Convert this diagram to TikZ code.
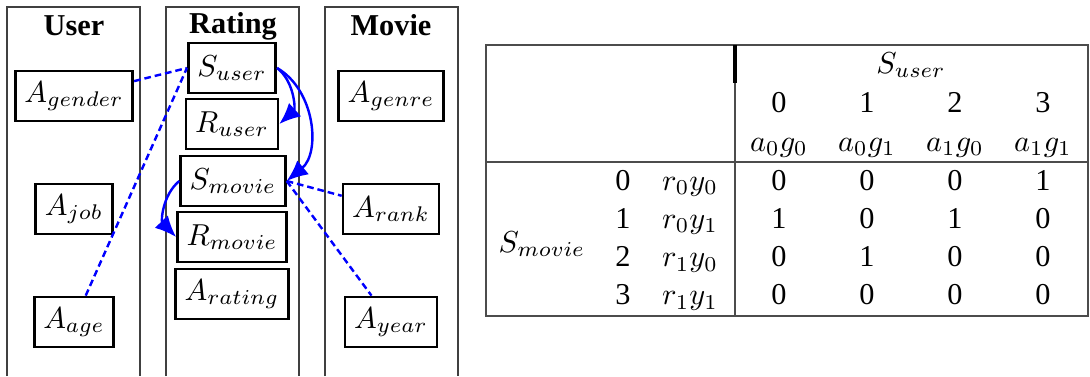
\documentclass[tikz,border=0pt]{standalone}
\usepackage[no-math]{fontspec}
\setmainfont{Liberation Serif}
\usepackage{amsmath}
\usetikzlibrary{arrows.meta,positioning}

\begin{document}
\begin{tikzpicture}[x=0.33pt,y=-0.33pt,
    box/.style={draw,line width=0.9pt,inner xsep=3pt,minimum height=16.5pt},
    title/.style={font=\bfseries,anchor=base},
    cell/.style={anchor=base},
    link/.style={blue,line width=0.8pt,dash pattern=on 2.2pt off 1.3pt},
    rel/.style={blue,line width=0.8pt,-{Latex[length=7pt,width=6pt]}},
    frame/.style={black!75,line width=0.4pt}]
	 \useasboundingbox (0,0) rectangle (1090,376);

	 % the three tables
	 \draw[frame] (7,376) -- (7,7) -- (140,7) -- (140,376);
	 \draw[frame] (166,376) -- (166,7) -- (299,7) -- (299,376);
	 \draw[frame] (325,376) -- (325,7) -- (458,7) -- (458,376);
	 \node at (74,35) [title] (user) {User};
	 \node at (233,33) [title] (rating) {Rating};
	 \node at (391,35) [title] (movie) {Movie};

	 \node at (74,96) [box] (gender) {$A_{gender}$};
	 \node at (74,209) [box] (job) {$A_{job}$};
	 \node at (74,322) [box] (age) {$A_{age}$};
	 \node at (232,68) [box] (suser) {$S_{user}$};
	 \node at (232,124) [box] (ruser) {$R_{user}$};
	 \node at (233,181) [box] (smovie) {$S_{movie}$};
	 \node at (232,237) [box] (rmovie) {$R_{movie}$};
	 \node at (232,294) [box] (arating) {$A_{rating}$};
	 \node at (391,96) [box] (genre) {$A_{genre}$};
	 \node at (391,209) [box] (rank) {$A_{rank}$};
	 \node at (391,322) [box] (year) {$A_{year}$};

	 \draw[link] (gender) -- (suser.west);
	 \draw[link] (age) -- (suser.west);
	 \draw[link] (smovie.east) -- (rank);
	 \draw[link] (smovie.east) -- (year);
	 \draw[rel] (suser.east) to[bend left=50] (ruser.east);
	 \draw[rel] (suser.east) to[bend left=55] (smovie.east);
	 \draw[rel] (smovie.west) to[bend right=47] (rmovie.west);

	 % the mapping table
	 \draw[black!70,line width=0.5pt] (486,45) rectangle (1088,316);
	 \draw[black!70,line width=0.5pt] (486,162) -- (1088,162);
	 \draw[black!70,line width=0.5pt] (735,83) -- (735,316);
	 \draw[line width=1.1pt] (735,45) -- (735,83);

	 \node at (911,73) [cell] (suserhead) {$S_{user}$};
	 \node at (542,252) [cell] (smoviehead) {$S_{movie}$};
	 \foreach \lab [count=\i from 0] in {a_0g_0,a_0g_1,a_1g_0,a_1g_1} {
	   \node at (779+88*\i,112) [cell] (uid\i) {\i};
	   \node at (779+88*\i,151) [cell] (ucode\i) {$\lab$};
	 }
	 \foreach \lab [count=\r from 0] in {r_0y_0,r_0y_1,r_1y_0,r_1y_1} {
	   \node at (623,190+38.3*\r) [cell] (mid\r) {\r};
	   \node at (690,190+38.3*\r) [cell] (mcode\r) {$\lab$};
	 }
	 \foreach \a/\b/\c/\d [count=\r from 0] in {0/0/0/1,1/0/1/0,0/1/0/0,0/0/0/0} {
	   \node at (779,190+38.3*\r) [cell] (v\r0) {\a};
	   \node at (867,190+38.3*\r) [cell] (v\r1) {\b};
	   \node at (955,190+38.3*\r) [cell] (v\r2) {\c};
	   \node at (1043,190+38.3*\r) [cell] (v\r3) {\d};
	 }

\end{tikzpicture}
\end{document}
